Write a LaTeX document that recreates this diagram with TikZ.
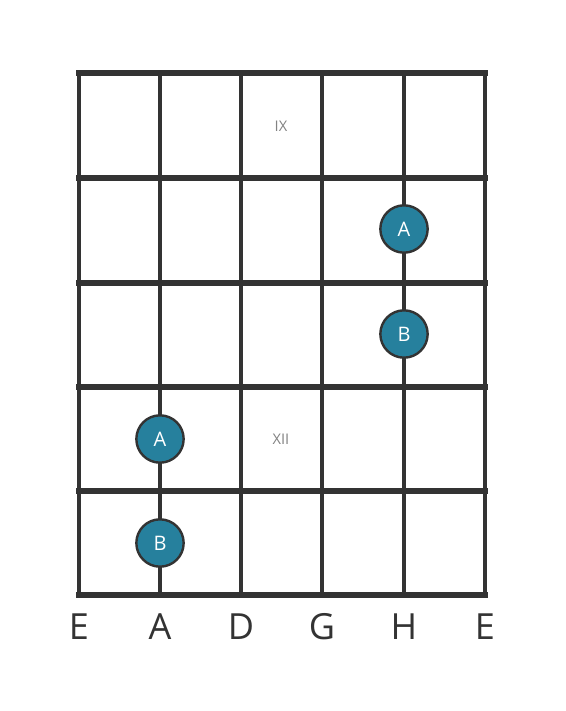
\documentclass[tikz,border=0pt]{standalone}
\usepackage{fontspec}
\setmainfont{Open Sans}
\definecolor{gridc}{RGB}{51,51,51}
\definecolor{dotc}{RGB}{38,128,157}
\definecolor{romc}{RGB}{130,130,130}
\begin{document}
\begin{tikzpicture}[x=0.75pt,y=-0.75pt,
  fretline/.style={gridc,line width=4.2pt,line cap=rect},
  stringline/.style={gridc,line width=2.3pt},
  dotnode/.style={circle,draw=gridc,line width=1.8pt,fill=dotc,minimum size=35.5pt,inner sep=0pt,text=white,font=\fontsize{15}{15}\selectfont},
  romnode/.style={text=romc,font=\fontsize{11}{11}\selectfont},
  stringname/.style={text=gridc,font=\fontsize{27}{27}\selectfont}]
\useasboundingbox[fill=white] (0,0) rectangle (566,711);
% strings
\foreach \x in {79,160,241,322,404,485}
  \draw[stringline] (\x,73) -- (\x,595);
% frets
\foreach \y in {73,178,283,387,491,595}
  \draw[fretline] (79,\y) -- (485,\y);
% position markers
\node[romnode] (ix) at (281,126) {IX};
\node[romnode] (xii) at (281,439) {XII};
% dots
\node[dotnode] (a1) at (404,229) {A};
\node[dotnode] (b1) at (404,334) {B};
\node[dotnode] (a2) at (160,439) {A};
\node[dotnode] (b2) at (160,543) {B};
% string names
\foreach \x/\n/\nm in {79/E/s1,160/A/s2,241/D/s3,322/G/s4,404/H/s5,485/E/s6}
  \node[stringname] (\nm) at (\x,627) {\n};
\end{tikzpicture}
\end{document}
